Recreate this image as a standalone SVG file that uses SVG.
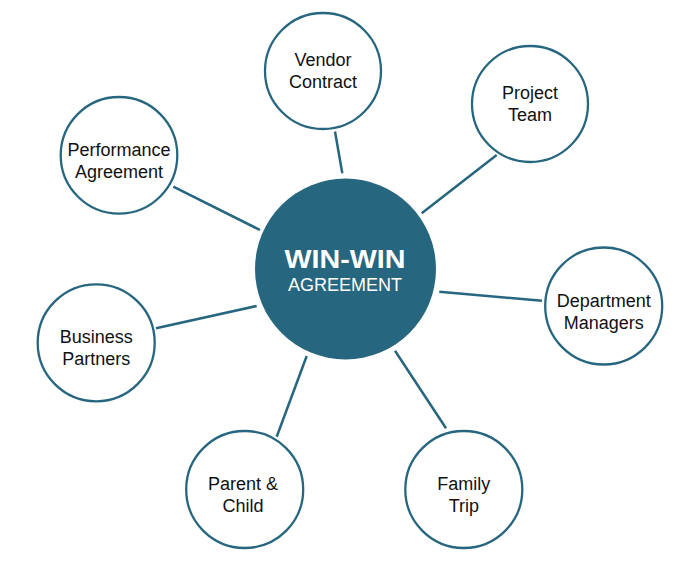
<svg xmlns="http://www.w3.org/2000/svg" width="700" height="570" viewBox="0 0 700 570">
<style>
.node{fill:#fff;stroke:#27667f;stroke-width:2.3}
.lbl{font-family:"Liberation Sans",Arial,sans-serif;font-size:18px;fill:#111;text-anchor:middle}
.conn line{stroke:#27667f;stroke-width:2.5}
.hub{fill:#27667f}
.hubt{font-family:"Liberation Sans",Arial,sans-serif;fill:#fff;text-anchor:middle}
</style>
<rect width="700" height="570" fill="#fff"/>
<g id="connectors" class="conn">
<line x1="335" y1="131.5" x2="342.3" y2="173.3"/>
<line x1="496.7" y1="155" x2="421.7" y2="213.3"/>
<line x1="173.3" y1="186.7" x2="260" y2="230"/>
<line x1="156" y1="328.3" x2="256.7" y2="306"/>
<line x1="439.3" y1="291.7" x2="542" y2="300.7"/>
<line x1="306.7" y1="356" x2="276.7" y2="436.7"/>
<line x1="395" y1="350.7" x2="446" y2="428.3"/>
</g>
<g id="hub">
<circle class="hub" cx="345.5" cy="269" r="90.5"/>
<text class="hubt" x="345" y="267.5" font-size="26.5" font-weight="bold" textLength="121" lengthAdjust="spacingAndGlyphs">WIN-WIN</text>
<text class="hubt" x="345" y="290.5" font-size="18" textLength="114" lengthAdjust="spacingAndGlyphs">AGREEMENT</text>
</g>
<g id="vendor">
<circle class="node" cx="323" cy="71" r="58"/>
<text class="lbl" x="323" y="66">Vendor</text>
<text class="lbl" x="323" y="88">Contract</text>
</g>
<g id="project">
<circle class="node" cx="530" cy="104" r="58"/>
<text class="lbl" x="530" y="98.5">Project</text>
<text class="lbl" x="530" y="120.5">Team</text>
</g>
<g id="performance">
<circle class="node" cx="119" cy="155.3" r="58.3"/>
<text class="lbl" x="119" y="155.7">Performance</text>
<text class="lbl" x="119" y="177.5">Agreement</text>
</g>
<g id="business">
<circle class="node" cx="96.2" cy="342.8" r="58.5"/>
<text class="lbl" x="96.2" y="342.7">Business</text>
<text class="lbl" x="96.2" y="365">Partners</text>
</g>
<g id="department">
<circle class="node" cx="603.7" cy="306" r="58.5"/>
<text class="lbl" x="603.7" y="306.7">Department</text>
<text class="lbl" x="603.7" y="328.5">Managers</text>
</g>
<g id="parent">
<circle class="node" cx="244.7" cy="489.5" r="58.5"/>
<text class="lbl" x="243" y="490">Parent &amp;</text>
<text class="lbl" x="243" y="511.7">Child</text>
</g>
<g id="family">
<circle class="node" cx="463.8" cy="489.5" r="58.5"/>
<text class="lbl" x="463.8" y="490">Family</text>
<text class="lbl" x="463.8" y="511.7">Trip</text>
</g>
</svg>
